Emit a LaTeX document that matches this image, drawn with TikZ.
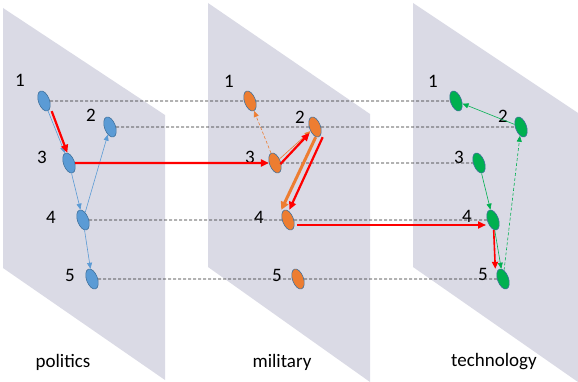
\documentclass[tikz,border=0pt]{standalone}
\usepackage{fontspec}
\setmainfont{Carlito}
\usepackage{xcolor}
\usepackage{tikz}
\usetikzlibrary{shapes.geometric, arrows.meta}

\definecolor{planegray}{HTML}{DADAE5}
\definecolor{polblue}{HTML}{5B9BD5}
\definecolor{miloran}{HTML}{ED7D31}
\definecolor{tecgreen}{HTML}{00B050}
\definecolor{rimblue}{HTML}{41719C}

\tikzset{
  plane/.style={fill=planegray, draw=none},
  actor/.style={ellipse, draw=rimblue, line width=0.6pt, minimum width=11pt, minimum height=21pt, inner sep=0pt, rotate=20},
  num/.style={font=\fontsize{19}{21}\selectfont, inner sep=0pt},
  fieldname/.style={font=\fontsize{19}{21}\selectfont, inner sep=0pt},
  rowline/.style={densely dashed, black!85, line width=0.6pt},
  thinarr/.style={line width=0.6pt, -{Triangle[length=6pt, width=5pt]}},
  redarr/.style={red, line width=2.2pt, -{Triangle[length=8pt, width=7pt]}}
}

\begin{document}
\begin{tikzpicture}[x=1pt, y=-1pt]
            \useasboundingbox (0,0) rectangle (578,382);

            % Planes
            \fill[plane] (3,8) -- (165,115) -- (165,380) -- (3,268) -- cycle;
            \fill[plane] (208,3) -- (370,114) -- (370,382) -- (208,267) -- cycle;
            \fill[plane] (413,3) -- (578,113) -- (578,382) -- (413,267) -- cycle;

            % Politics
            \node[actor, fill=polblue] (p1) at (44,101) {};
            \node[actor, fill=polblue] (p2) at (110,127) {};
            \node[actor, fill=polblue] (p3) at (69,163) {};
            \node[actor, fill=polblue] (p4) at (83,220) {};
            \node[actor, fill=polblue] (p5) at (92,279) {};
            \node[num] (np1) at (20,80) {1};
            \node[num] (np2) at (91,115) {2};
            \node[num] (np3) at (42,157) {3};
            \node[num] (np4) at (51,217) {4};
            \node[num] (np5) at (70,275) {5};
            \node[fieldname] (pol) at (63,362) {politics};

            % Military
            \node[actor, fill=miloran] (m1) at (250,101) {};
            \node[actor, fill=miloran] (m2) at (315,127) {};
            \node[actor, fill=miloran] (m3) at (275,163) {};
            \node[actor, fill=miloran] (m4) at (288,220) {};
            \node[actor, fill=miloran] (m5) at (298,279) {};
            \node[num] (nm1) at (229,81) {1};
            \node[num] (nm2) at (300,117) {2};
            \node[num] (nm3) at (250,157) {3};
            \node[num] (nm4) at (259,217) {4};
            \node[num] (nm5) at (277,275) {5};
            \node[fieldname] (mil) at (282,362) {military};

            % Technology
            \node[actor, fill=tecgreen] (t1) at (456,101) {};
            \node[actor, fill=tecgreen] (t2) at (521,127) {};
            \node[actor, fill=tecgreen] (t3) at (479,163) {};
            \node[actor, fill=tecgreen] (t4) at (493,220) {};
            \node[actor, fill=tecgreen] (t5) at (503,279) {};
            \node[num] (nt1) at (433,81) {1};
            \node[num] (nt2) at (503,116) {2};
            \node[num] (nt3) at (459,157) {3};
            \node[num] (nt4) at (467,216) {4};
            \node[num] (nt5) at (483,274) {5};
            \node[fieldname] (tec) at (494,362) {technology};

            % Rows across the planes
            \foreach \i in {1,...,5}
                \draw[rowline] (p\i) -- (m\i) -- (t\i);

            % Politics links
            \draw[thinarr, polblue] (p1) -- (p3);
            \draw[thinarr, polblue] (p3) -- (p4);
            \draw[thinarr, polblue] (p4) -- (p2);
            \draw[thinarr, polblue] (p4) -- (p5);

            % Military links
            \draw[thinarr, miloran, densely dashed] (m3) -- (m1);
            \draw[thinarr, miloran] (m3) -- (m2);
            \draw[miloran, line width=3pt, -{Triangle[length=8pt, width=8pt]}] ([xshift=-3pt]m2.south) -- ([xshift=-3pt]m4.north);

            % Technology links
            \draw[thinarr, tecgreen] (t2) -- (t1);
            \draw[thinarr, tecgreen] (t3) -- (t4);
            \draw[thinarr, tecgreen, densely dashed] (t5) -- (t2);
            \draw[thinarr, tecgreen] (t4) -- (t5);

            % Red path
            \draw[redarr] ([xshift=4pt]p1.south) -- ([xshift=2pt]p3.north);
            \draw[redarr] (p3) -- (m3);
            \draw[redarr] ([yshift=-3pt]m3.east) -- ([yshift=-4pt]m2.west);
            \draw[redarr] ([xshift=4pt]m2.south) -- ([xshift=5pt]m4.north);
            \draw[redarr] ([xshift=9pt, yshift=-5pt]m4.center) -- ([xshift=-7pt, yshift=-5pt]t4.center);
            \draw[red, line width=1.6pt, -{Triangle[length=7pt, width=6pt]}] ([xshift=-3pt]t4.south) -- ([xshift=-4pt]t5.north);
\end{tikzpicture}
\end{document}
